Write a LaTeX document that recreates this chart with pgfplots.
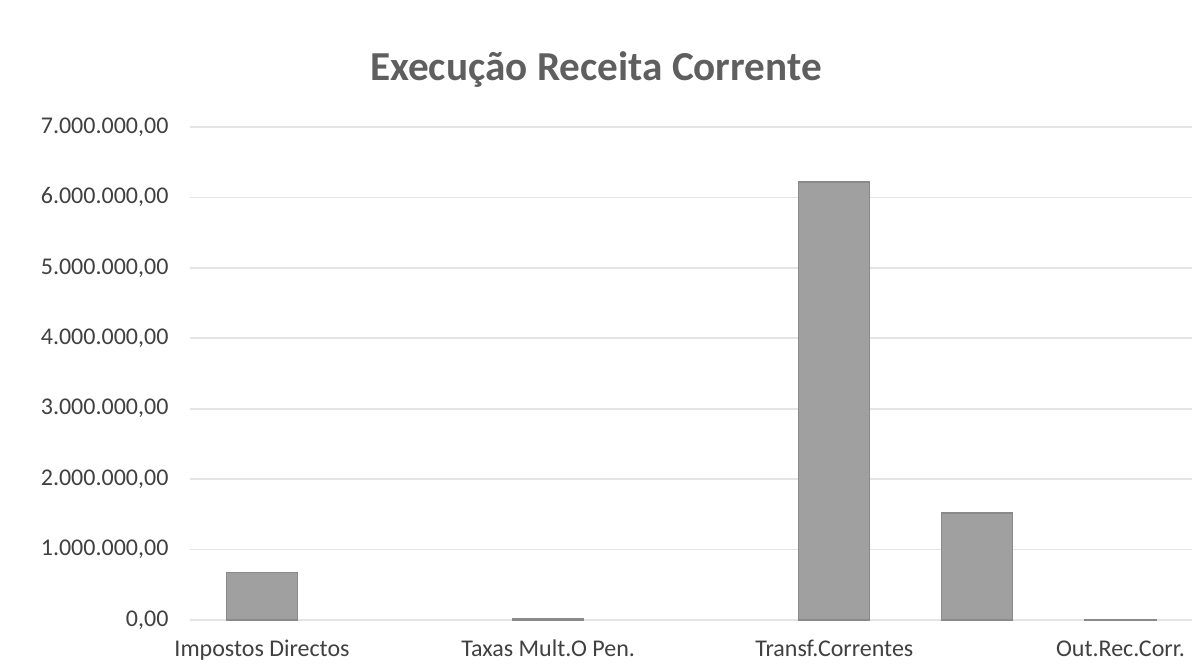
\documentclass[border=0pt]{standalone}
\usepackage{fontspec}
\setmainfont{Carlito}
\usepackage{pgfplots}
\pgfplotsset{compat=1.18}
\usetikzlibrary{calc}
\definecolor{tickgray}{HTML}{404040}
\definecolor{titlegray}{HTML}{5F5F5F}
\definecolor{gridgray}{HTML}{E4E4E4}
\definecolor{barfill}{HTML}{A0A0A0}
\definecolor{baredge}{HTML}{8A8A8A}

% categories 1 and 3 have no visible bar (value 0)
\pgfplotstableread{
x  val
0  670000
2  15000
4  6220000
5  1520000
6  12000
}\receita

\begin{document}
\begin{tikzpicture}
\begin{axis}[
    name=ax,
    scale only axis,
    width=500.75pt,
    height=246.5pt,
    ybar,
    bar width=35.5pt,
    xmin=-0.5, xmax=6.5,
    ymin=0, ymax=7000000,
    xtick={0,2,4,6},
    xticklabels={Impostos Directos, Taxas Mult.O Pen., Transf.Correntes, Out.Rec.Corr.},
    ytick={0,1000000,...,7000000},
    scaled y ticks=false,
    yticklabel style={
        /pgf/number format/fixed,
        /pgf/number format/fixed zerofill,
        /pgf/number format/precision=2,
        /pgf/number format/1000 sep={.},
        /pgf/number format/use comma,
        /pgf/number format/assume math mode=true,
        xshift=-7.5pt},
    ticklabel style={font=\fontsize{12}{14}\selectfont, text=tickgray},
    xticklabel style={anchor=north, text height=1.6ex, text depth=0.5ex, yshift=-7pt},
    major tick length=0pt,
    axis line style={draw=none},
    ymajorgrids=true,
    grid style={gridgray, line width=0.8pt},
    clip=false,
]
\addplot[fill=barfill, draw=baredge, line width=0.6pt] table[x=x, y=val] {\receita};
\end{axis}
\node[font=\fontsize{20.6}{24}\selectfont\bfseries, text=titlegray]
    at ($(ax.north west)+(202.75pt,28.5pt)$) {Execução Receita Corrente};
\pgfresetboundingbox
\useasboundingbox ($(ax.south west)+(-95.25pt,-25.5pt)$) rectangle ($(ax.north east)+(0pt,63.5pt)$);
\end{tikzpicture}
\end{document}
